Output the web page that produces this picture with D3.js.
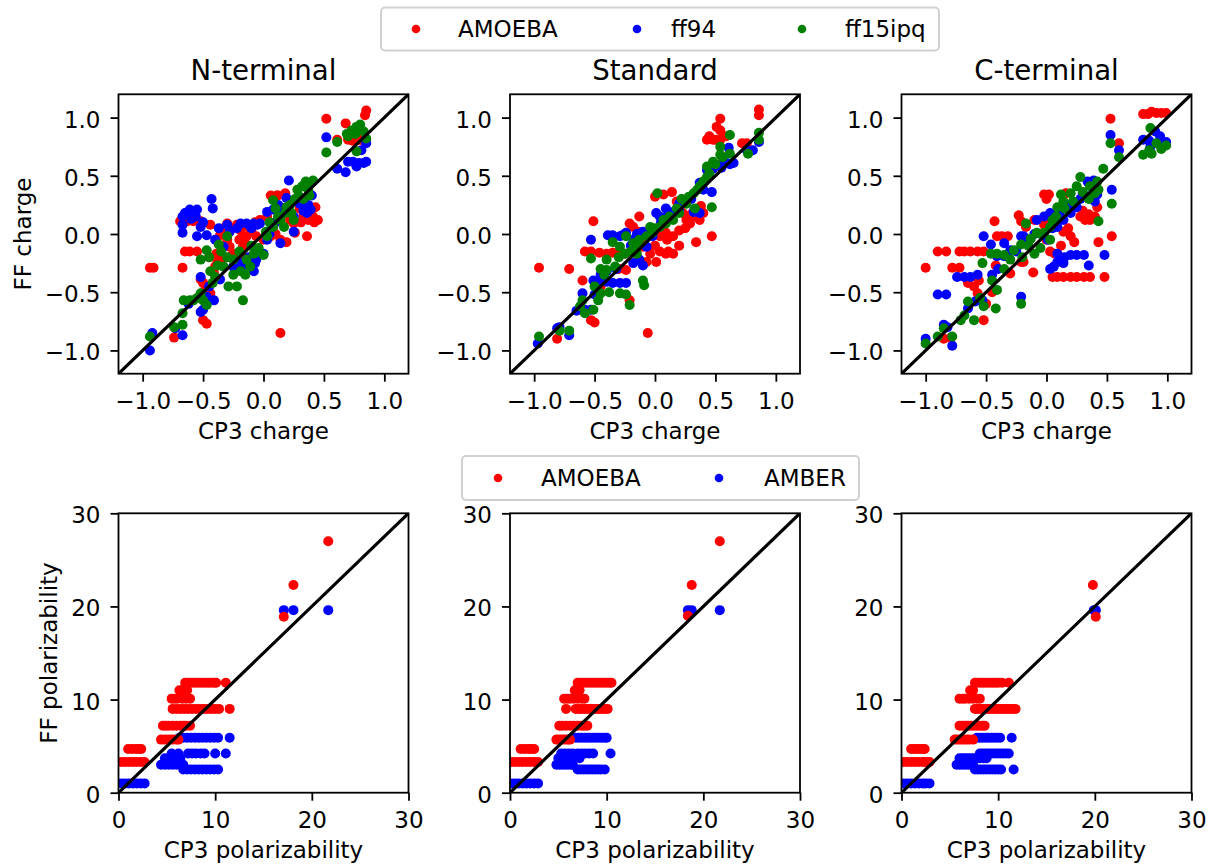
<!DOCTYPE html>
<html><head><meta charset="utf-8">
<script src="https://cdn.jsdelivr.net/npm/d3@7"></script>
<style>
body{margin:0;background:#fff}
text{font-family:"DejaVu Sans",sans-serif;fill:#000}
</style>
</head><body>
<svg id="chart" width="1208" height="866"></svg>
<script>
// ---------------- DATA ----------------
const panelTitles = ["N-terminal", "Standard", "C-terminal"];
const chargeLegendLabels = ["AMOEBA", "ff94", "ff15ipq"];
const polLegendLabels = ["AMOEBA", "AMBER"];
const chargeTicks = [-1.0, -0.5, 0.0, 0.5, 1.0];
const polTicks = [0, 10, 20, 30];
const chargeDomain = [-1.2, 1.2];
const polDomain = [0, 30];
const xLabelCharge = "CP3 charge", yLabelCharge = "FF charge";
const xLabelPol = "CP3 polarizability", yLabelPol = "FF polarizability";

// N-terminal charges [CP3, FF]
const nTermAmoeba = [[0.52,0.99],[0.68,0.95],[0.85,1.06],[0.84,1.02],[0.70,0.81],[0.74,0.80],[0.79,0.81],[0.83,0.80],[0.85,0.81],[0.61,0.81],
[0.06,0.33],[0.11,0.33],[0.18,0.35],[0.03,0.15],[0.15,0.16],[0.30,0.22],[0.33,0.16],[0.37,0.12],[0.41,0.15],[0.43,0.23],[0.36,-0.02],[0.26,0.01],[0.19,-0.07],[0.14,-0.05],[0.06,-0.02],[0.25,0.09],
[-0.69,0.11],[-0.63,0.11],[-0.58,0.11],[-0.52,0.11],[-0.44,0.08],
[-0.30,0.09],[-0.26,0.05],[-0.19,0.03],[-0.14,-0.02],[-0.06,-0.02],[-0.28,-0.11],[-0.25,-0.17],[-0.36,-0.01],[-0.39,-0.17],[-0.40,-0.28],[-0.41,-0.34],[-0.17,-0.11],[-0.10,0.03],[-0.34,-0.22],[-0.03,0.12],[-0.18,-0.19],
[-0.94,-0.29],[-0.91,-0.29],[-0.67,-0.29],[-0.74,-0.89],[-0.50,-0.74],[-0.47,-0.77],[-0.65,-0.15],[-0.61,-0.15],[-0.55,-0.15],[-0.52,-0.39],[-0.44,-0.51],[0.14,-0.85],[-0.50,-0.42],
[-0.33,0.05],[-0.22,0.08],[-0.12,0.06],[-0.30,-0.05],[-0.20,-0.05],[0.0,-0.05],[0.10,0.0],[0.22,0.12],[0.31,0.10],[0.42,0.10],[-0.45,-0.20],[-0.38,-0.24],[-0.48,-0.47],[0.38,0.20],[-0.07,0.10],[0.12,0.33],[0.45,0.12],[-0.28,-0.20],[-0.15,-0.08]];
const nTermFf94 = [[0.52,0.83],[0.61,0.56],[0.68,0.53],[0.70,0.62],[0.74,0.62],[0.79,0.61],[0.83,0.61],[0.85,0.62],[0.77,0.58],[0.81,0.72],[0.85,0.78],
[0.21,0.46],[0.19,0.31],[0.14,0.23],[0.08,0.21],[0.03,0.19],[0.14,-0.08],[0.25,0.02],[0.36,0.18],[0.39,0.21],[0.40,0.33],[0.30,0.26],[0.07,0.06],[-0.03,0.09],
[-0.67,0.15],[-0.65,0.18],[-0.61,0.21],[-0.55,0.21],[-0.67,0.01],[-0.67,0.08],[-0.55,-0.02],[-0.52,0.06],[-0.43,0.30],[-0.42,0.22],[-0.47,-0.01],[-0.56,0.15],
[-0.37,0.05],[-0.28,0.02],[-0.19,0.09],[-0.14,0.09],[-0.08,0.09],[-0.25,-0.28],[-0.18,-0.28],[-0.07,-0.25],[-0.06,-0.22],[-0.08,-0.32],[0.0,-0.17],[-0.33,-0.11],[0.03,-0.05],[-0.36,-0.39],
[-0.94,-1.0],[-0.92,-0.85],[-0.67,-0.87],[-0.73,-0.81],[-0.52,-0.67],[-0.50,-0.65],[-0.47,-0.54],[-0.52,-0.37],[-0.41,-0.57],
[-0.30,0.08],[-0.22,0.05],[-0.10,0.05],[-0.05,0.08],[0.05,0.0],[0.10,0.10],[0.18,0.20],[0.25,0.15],[0.33,0.20],[0.37,0.25],[-0.60,0.13],[-0.50,0.10],[-0.40,-0.05],[-0.20,-0.25],[-0.12,-0.20],[0.12,0.25],[-0.45,-0.45],[-0.62,-0.60]];
const nTermFf15ipq = [[0.52,0.70],[0.61,0.79],[0.69,0.86],[0.73,0.89],[0.77,0.92],[0.80,0.94],[0.76,0.86],[0.83,0.88],[0.85,0.82],[0.77,0.71],[0.70,0.84],
[0.08,0.29],[0.14,0.12],[0.19,0.23],[0.23,0.18],[0.28,0.38],[0.32,0.41],[0.36,0.42],[0.41,0.46],[0.30,0.32],[0.37,0.38],[0.08,0.06],[0.17,0.06],[0.03,-0.02],[0.25,0.12],
[-0.52,-0.22],[-0.47,-0.14],[-0.44,-0.32],[-0.37,-0.09],[-0.29,-0.45],[-0.22,-0.45],[-0.17,-0.57],[-0.25,-0.22],[-0.19,-0.32],[-0.11,-0.28],[-0.08,-0.17],[0.0,-0.18],[-0.33,-0.28],[-0.14,-0.22],[-0.04,-0.12],[-0.30,-0.02],[-0.40,-0.37],
[-0.94,-0.88],[-0.74,-0.80],[-0.67,-0.78],[-0.67,-0.68],[-0.66,-0.57],[-0.61,-0.57],[-0.55,-0.55],[-0.50,-0.57],[-0.47,-0.61],[-0.52,-0.51],
[-0.45,-0.20],[-0.35,-0.15],[-0.30,-0.20],[-0.20,-0.15],[-0.10,-0.10],[0.02,0.02],[0.05,0.10],[0.12,0.15],[0.18,0.18],[0.22,0.25],[0.26,0.30],[0.33,0.30],[0.38,0.33],[-0.38,-0.27],[-0.25,-0.35],[-0.15,-0.35],[-0.58,-0.57],[-0.42,-0.42],[0.10,0.22],[0.35,0.45]];

// Standard charges
const stdAmoeba = [[-0.96,-0.29],[-0.71,-0.30],[-0.51,0.11],[-0.06,-0.85],[-0.81,-0.90],[-0.60,-0.40],[-0.53,-0.74],[-0.50,-0.76],[-0.58,-0.15],[-0.53,-0.15],[-0.46,-0.16],[-0.40,-0.17],[-0.35,-0.16],[-0.29,-0.15],
[-0.21,0.09],[-0.18,0.06],[-0.13,0.15],[-0.21,-0.57],[-0.24,-0.31],[-0.14,0.02],[-0.10,-0.11],[-0.04,-0.17],[0.01,-0.24],[0.0,0.32],[0.07,0.34],[0.14,0.36],[0.18,0.28],[0.23,0.18],[0.26,0.12],[0.32,0.15],[0.37,0.12],[0.38,0.24],[0.34,-0.07],[0.47,-0.02],
[0.04,-0.15],[0.09,-0.17],[0.15,-0.17],[0.04,-0.02],[0.09,0.01],[0.15,-0.02],[0.20,0.03],[0.43,0.81],[0.48,0.81],[0.54,0.81],[0.59,0.84],[0.54,0.89],[0.51,0.92],[0.54,0.99],[0.72,0.78],[0.76,0.78],[0.86,1.07],[0.86,1.02],[-0.07,-0.24],[0.29,0.09],
[-0.25,-0.17],[-0.20,-0.15],[-0.12,-0.07],[0.0,-0.10],[0.10,-0.05],[0.20,-0.10],[0.25,0.05],[0.30,0.17],[0.40,0.18],[-0.30,-0.30],[-0.45,-0.45],[0.11,-0.15],[0.50,0.81],[0.45,0.84]];
const stdFf94 = [[-0.97,-0.94],[-0.81,-0.81],[-0.79,-0.80],[-0.71,-0.87],[-0.60,-0.51],[-0.58,-0.65],[-0.53,-0.65],[-0.53,-0.05],[-0.51,-0.40],[-0.46,-0.40],[-0.40,-0.41],[-0.35,-0.42],[-0.29,-0.42],[-0.24,-0.42],
[-0.39,-0.01],[-0.35,-0.01],[-0.29,-0.02],[-0.27,-0.01],[-0.24,0.01],[-0.18,-0.05],[-0.18,-0.25],[-0.13,-0.22],[-0.10,-0.27],[-0.02,-0.02],[0.01,0.18],[0.04,0.15],[0.09,0.22],[0.15,0.19],[0.20,0.26],[0.26,0.29],[0.37,0.44],[0.32,0.19],[0.37,0.18],[0.47,0.36],
[0.43,0.55],[0.48,0.56],[0.54,0.59],[0.59,0.61],[0.65,0.61],[0.61,0.74],[0.76,0.72],[0.81,0.72],[0.86,0.79],[-0.02,0.03],[-0.07,-0.11],
[-0.45,-0.35],[-0.40,-0.32],[-0.32,-0.30],[-0.20,-0.10],[-0.15,0.0],[-0.10,0.02],[0.05,0.10],[0.10,0.15],[0.20,0.20],[0.30,0.30],[0.40,0.38],[-0.50,-0.52],[-0.65,-0.66],[0.55,0.57],[0.62,0.60]];
const stdFf15ipq = [[-0.96,-0.88],[-0.79,-0.83],[-0.71,-0.83],[-0.60,-0.57],[-0.58,-0.68],[-0.51,-0.65],[-0.47,-0.57],[-0.45,-0.51],[-0.53,-0.21],[-0.45,-0.30],[-0.40,-0.31],[-0.38,-0.50],[-0.29,-0.51],[-0.24,-0.52],[-0.21,-0.61],
[-0.35,-0.07],[-0.29,-0.11],[-0.25,-0.17],[-0.24,-0.02],[-0.18,-0.08],[-0.13,-0.05],[-0.07,-0.02],[-0.04,0.06],[-0.09,-0.44],[-0.10,-0.40],[-0.02,0.01],[0.04,0.06],[0.09,0.09],[0.15,0.12],[0.20,0.18],[0.26,0.26],[0.32,0.35],[0.37,0.41],[0.43,0.49],
[0.02,0.35],[0.33,0.22],[0.47,0.23],[0.43,0.58],[0.48,0.62],[0.54,0.68],[0.54,0.75],[0.56,0.66],[0.62,0.69],[0.62,0.85],[0.77,0.69],[0.86,0.87],[0.86,0.81],[-0.15,-0.17],[-0.40,-0.22],
[-0.50,-0.45],[-0.42,-0.35],[-0.33,-0.28],[-0.30,-0.20],[-0.20,-0.15],[-0.15,-0.10],[0.0,0.05],[0.07,0.12],[0.12,0.15],[0.18,0.22],[0.22,0.30],[0.28,0.32],[0.35,0.38],[0.40,0.45],[0.45,0.52],[0.50,0.60],[-0.62,-0.62]];

// C-terminal charges
const cTermAmoeba = [[-1.0,-0.29],[-0.90,-0.15],[-0.83,-0.15],[-0.78,-0.29],[-0.72,-0.29],[-0.72,-0.15],[-0.68,-0.15],[-0.63,-0.15],[-0.57,-0.15],[-0.52,-0.15],[-0.85,-0.90],[-0.79,-0.89],[-0.65,-0.42],[-0.60,-0.45],[-0.57,-0.51],[-0.56,-0.40],[-0.52,-0.74],
[-0.43,0.11],[-0.41,-0.02],[-0.37,-0.02],[-0.32,-0.02],[-0.42,-0.27],[-0.30,-0.34],[-0.23,0.16],[-0.21,0.11],[-0.17,0.06],[-0.21,-0.24],[-0.19,-0.24],[-0.11,-0.33],[-0.02,0.34],[0.02,0.34],[0.03,-0.15],[0.07,-0.17],[-0.02,0.08],[0.03,0.09],[0.09,0.12],[0.16,0.35],
[0.05,-0.37],[0.09,-0.37],[0.14,-0.37],[0.20,-0.37],[0.25,-0.37],[0.31,-0.37],[0.36,-0.37],[0.14,0.02],[0.20,-0.02],[0.23,-0.07],[0.28,0.15],[0.32,0.12],[0.36,0.12],[0.40,0.15],[0.42,0.23],[0.43,-0.07],[0.48,-0.37],
[0.53,0.99],[0.54,-0.02],[0.60,0.78],[0.80,1.03],[0.84,1.03],[0.87,1.05],[0.91,1.04],[0.95,1.04],[0.99,1.04],
[-0.45,-0.50],[-0.50,-0.60],[0.0,0.30],[0.10,0.20],[0.12,-0.10],[0.18,0.05],[0.30,0.20],[0.35,0.17],[-0.10,0.12],[0.0,-0.05]];
const cTermFf94 = [[-1.0,-0.90],[-0.90,-0.52],[-0.83,-0.52],[-0.85,-0.78],[-0.82,-0.80],[-0.78,-0.96],[-0.74,-0.37],[-0.68,-0.37],[-0.63,-0.37],[-0.57,-0.35],[-0.65,-0.64],[-0.59,-0.58],[-0.53,-0.57],
[-0.52,-0.02],[-0.46,-0.09],[-0.41,-0.19],[-0.35,-0.19],[-0.30,-0.14],[-0.35,-0.08],[-0.21,-0.02],[-0.19,-0.02],[-0.16,-0.05],[-0.21,-0.54],[-0.08,0.12],[-0.02,0.15],[0.03,0.18],[0.09,0.06],[0.14,0.12],[0.20,0.18],[0.25,0.23],[0.34,0.45],[0.39,0.46],[0.36,0.32],[0.42,0.34],
[0.03,-0.30],[0.09,-0.24],[0.14,-0.25],[0.20,-0.18],[0.25,-0.18],[0.31,-0.18],[0.35,-0.27],[0.09,-0.17],[0.48,-0.18],[0.53,0.85],[0.54,0.38],[0.60,0.72],[0.80,0.81],[0.86,0.75],[0.90,0.88],[0.94,0.84],[0.99,0.79],[0.01,-0.05],
[-0.45,-0.35],[-0.40,-0.30],[-0.25,-0.15],[-0.10,0.0],[0.05,0.05],[0.12,0.20],[0.20,0.25],[0.28,0.30],[0.30,0.35],[0.40,0.28],[0.06,-0.28],[0.15,-0.20],[0.85,0.80],[0.95,0.78]];
const cTermFf15ipq = [[-1.0,-0.94],[-0.90,-0.88],[-0.85,-0.81],[-0.78,-0.88],[-0.71,-0.74],[-0.65,-0.58],[-0.60,-0.74],[-0.52,-0.62],[-0.42,-0.64],[-0.53,-0.25],[-0.41,-0.48],[-0.46,-0.17],[-0.41,-0.17],[-0.35,-0.18],[-0.30,-0.22],[-0.27,-0.14],[-0.21,-0.09],[-0.21,-0.60],
[-0.17,0.09],[-0.13,-0.04],[-0.10,-0.17],[-0.05,-0.12],[-0.02,0.01],[0.03,0.06],[0.09,0.23],[0.14,0.28],[0.20,0.35],[0.25,0.41],[0.28,0.49],[0.36,0.41],[0.43,0.38],[0.47,0.56],[0.43,0.11],[0.54,0.26],
[0.53,0.78],[0.60,0.66],[0.80,0.68],[0.87,0.69],[0.91,0.78],[0.86,0.91],[0.99,0.76],[0.12,0.34],[0.03,-0.05],[-0.08,0.01],
[-0.45,-0.40],[-0.35,-0.30],[-0.20,-0.20],[-0.15,-0.10],[-0.05,0.0],[0.05,0.12],[0.08,0.15],[0.15,0.22],[0.22,0.28],[0.30,0.36],[0.35,0.30],[0.40,0.35],[0.42,0.45],[-0.55,-0.55],[-0.68,-0.70],[0.85,0.72],[0.95,0.73]];

// Polarizabilities [CP3, FF]
const polNAmoeba = [[6.9,11.8],[7.2,11.8],[7.5,11.8],[7.8,11.8],[8.1,11.8],[8.4,11.8],[8.7,11.8],[9.0,11.8],[9.3,11.8],[9.6,11.8],[9.9,11.8],[10.1,11.8],[11.1,11.8],
[6.3,11.0],[6.6,11.0],[6.9,11.0],[7.1,11.0],
[5.5,10.1],[5.8,10.1],[6.1,10.1],[6.6,10.1],[7.0,10.1],[7.4,10.1],
[5.6,9.0],[6.0,9.0],[6.4,9.0],[6.8,9.0],[7.2,9.0],[7.6,9.0],[8.0,9.0],[8.4,9.0],[8.8,9.0],[9.2,9.0],[9.6,9.0],[10.0,9.0],[10.4,9.0],[11.5,9.0],
[4.6,7.2],[4.9,7.2],[5.2,7.2],[5.6,7.2],[6.0,7.2],[6.4,7.2],[6.7,7.2],[7.0,7.2],[7.4,7.2],
[4.4,5.7],[4.8,5.7],[5.2,5.7],[5.6,5.7],[6.0,5.7],[6.2,5.7],
[1.0,4.7],[1.4,4.7],[1.8,4.7],[2.1,4.7],[2.35,4.7],
[0.3,3.3],[0.7,3.3],[1.1,3.3],[1.5,3.3],[1.9,3.3],[2.3,3.3],[2.7,3.3],
[17.1,18.9],[18.1,22.3],[21.7,27.0]];
const polNAmber = [[0.3,1.0],[0.7,1.0],[1.1,1.0],[1.5,1.0],[1.9,1.0],[2.3,1.0],[2.7,1.0],
[6.3,5.9],[6.7,5.9],[7.1,5.9],[7.5,5.9],[7.9,5.9],[8.3,5.9],[8.7,5.9],[9.1,5.9],[9.5,5.9],[9.9,5.9],[10.3,5.9],[11.5,5.9],
[5.5,4.2],[6.2,4.2],[7.2,4.2],[7.6,4.2],[8.0,4.2],[8.5,4.2],[8.9,4.2],[10.0,4.2],[11.1,4.2],
[4.8,3.7],[5.2,3.7],[5.6,3.7],[6.0,3.7],[6.4,3.7],
[4.4,3.0],[4.8,3.0],[5.2,3.0],[5.6,3.0],[6.0,3.0],[6.4,3.0],[6.7,3.0],
[6.7,2.5],[7.1,2.5],[7.5,2.5],[7.9,2.5],[8.3,2.5],[8.7,2.5],[9.1,2.5],[9.5,2.5],[9.9,2.5],[10.3,2.5],
[17.1,19.6],[18.1,19.6],[21.7,19.6]];
const polStdAmoeba = [[7.0,11.8],[7.3,11.8],[7.6,11.8],[7.9,11.8],[8.2,11.8],[8.5,11.8],[8.8,11.8],[9.1,11.8],[9.4,11.8],[9.7,11.8],[10.0,11.8],[10.3,11.8],[10.5,11.8],
[6.7,11.0],[7.0,11.0],[7.2,11.0],
[5.6,10.1],[5.9,10.1],[6.2,10.1],[6.6,10.1],[7.0,10.1],[7.4,10.1],[7.7,10.1],
[5.8,9.0],[6.8,9.0],[7.1,9.0],[7.4,9.0],[7.7,9.0],[8.0,9.0],[8.3,9.0],[8.6,9.0],[8.9,9.0],[9.2,9.0],[9.5,9.0],[9.8,9.0],[10.1,9.0],
[5.1,7.2],[5.4,7.2],[5.8,7.2],[6.2,7.2],[6.6,7.2],[7.0,7.2],[7.4,7.2],[7.7,7.2],[8.0,7.2],
[4.8,5.7],[5.1,5.7],[5.4,5.7],[5.7,5.7],[6.0,5.7],[6.2,5.7],
[1.1,4.7],[1.5,4.7],[1.9,4.7],[2.2,4.7],[2.5,4.7],
[0.1,3.3],[0.5,3.3],[0.9,3.3],[1.3,3.3],[1.7,3.3],[2.1,3.3],[2.5,3.3],[2.9,3.3],
[18.4,19.0],[18.8,22.3],[21.7,27.0]];
const polStdAmber = [[0.1,1.0],[0.5,1.0],[0.9,1.0],[1.3,1.0],[1.7,1.0],[2.1,1.0],[2.5,1.0],[2.9,1.0],
[6.8,5.9],[7.1,5.9],[7.4,5.9],[7.7,5.9],[8.0,5.9],[8.3,5.9],[8.6,5.9],[8.9,5.9],[9.2,5.9],[9.5,5.9],[9.8,5.9],[10.0,5.9],
[5.3,4.2],[5.7,4.2],[6.1,4.2],[6.5,4.2],[7.0,4.2],[7.4,4.2],[7.8,4.2],[8.2,4.2],[8.6,4.2],[10.4,4.2],
[5.0,3.7],[5.4,3.7],[5.8,3.7],[6.2,3.7],[6.6,3.7],[7.2,3.7],
[4.8,3.0],[5.1,3.0],[5.4,3.0],[5.7,3.0],[6.0,3.0],[6.3,3.0],[6.5,3.0],
[7.0,2.5],[7.3,2.5],[7.6,2.5],[7.9,2.5],[8.2,2.5],[8.5,2.5],[8.8,2.5],[9.1,2.5],[9.4,2.5],[9.8,2.5],
[18.4,19.6],[18.8,19.6],[21.7,19.6]];
const polCAmoeba = [[7.6,11.8],[7.9,11.8],[8.2,11.8],[8.5,11.8],[8.8,11.8],[9.1,11.8],[9.4,11.8],[9.7,11.8],[10.0,11.8],[10.4,11.8],[11.1,11.8],
[7.1,11.0],[7.4,11.0],
[6.0,10.1],[6.3,10.1],[6.6,10.1],[7.0,10.1],[7.4,10.1],[7.8,10.1],[8.1,10.1],
[7.6,9.0],[7.9,9.0],[8.2,9.0],[8.5,9.0],[8.8,9.0],[9.1,9.0],[9.4,9.0],[9.7,9.0],[10.0,9.0],[10.3,9.0],[10.6,9.0],[10.9,9.0],[11.2,9.0],[11.5,9.0],[11.8,9.0],
[6.0,7.2],[6.3,7.2],[6.6,7.2],[6.9,7.2],[7.2,7.2],[7.5,7.2],[7.8,7.2],[8.1,7.2],[8.4,7.2],[8.6,7.2],
[5.5,5.7],[5.8,5.7],[6.1,5.7],[6.4,5.7],[6.7,5.7],[7.0,5.7],[7.4,5.7],
[1.0,4.7],[1.3,4.7],[1.6,4.7],[1.9,4.7],[2.2,4.7],[2.4,4.7],
[0.2,3.3],[0.6,3.3],[1.0,3.3],[1.4,3.3],[1.8,3.3],[2.2,3.3],[2.5,3.3],[2.9,3.3],
[19.8,22.3],[20.1,18.9]];
const polCAmber = [[0.2,1.0],[0.6,1.0],[1.0,1.0],[1.4,1.0],[1.8,1.0],[2.2,1.0],[2.5,1.0],[2.9,1.0],
[7.8,5.9],[8.1,5.9],[8.4,5.9],[8.7,5.9],[9.0,5.9],[9.3,5.9],[9.6,5.9],[9.9,5.9],[10.2,5.9],[11.4,5.9],
[8.1,4.2],[8.4,4.2],[8.7,4.2],[9.0,4.2],[9.3,4.2],[9.6,4.2],[9.9,4.2],[10.2,4.2],[10.5,4.2],[10.8,4.2],[11.1,4.2],
[6.0,3.7],[6.3,3.7],[6.6,3.7],[6.9,3.7],[7.2,3.7],[7.5,3.7],[7.8,3.7],[8.1,3.7],[8.5,3.7],[8.8,3.7],
[5.7,3.0],[6.0,3.0],[6.3,3.0],[6.6,3.0],[6.9,3.0],[7.2,3.0],[7.4,3.0],
[7.6,2.5],[7.9,2.5],[8.2,2.5],[8.5,2.5],[8.8,2.5],[9.1,2.5],[9.4,2.5],[9.7,2.5],[10.0,2.5],[10.3,2.5],[11.6,2.5],
[19.9,19.6],[20.1,19.6]];

// ---------------- DRAWING ----------------
const RED = "#ff0000", BLUE = "#0000ff", GREEN = "#008000";
const svg = d3.select("#chart");
svg.append("rect").attr("width", 1208).attr("height", 866).attr("fill", "#fff");

const lefts = [118.5, 510, 901.5];
const W = 290;
const rows = [{top: 94.3, bottom: 373.7}, {top: 513.3, bottom: 792.7}];
const FS = 23;
const DOT_R = 5;

let clipN = 0;
function drawPanel(opt) {
  const {x0, y0, y1, domain, ticks, fmt, series, title, xlabel, ylabel, ylabelX} = opt;
  const x1 = x0 + W;
  const xs = d3.scaleLinear().domain(domain).range([x0, x1]);
  const ys = d3.scaleLinear().domain(domain).range([y1, y0]);
  const g = svg.append("g");
  const cid = "clip" + (clipN++);
  svg.append("defs").append("clipPath").attr("id", cid)
    .append("rect").attr("x", x0).attr("y", y0).attr("width", x1 - x0).attr("height", y1 - y0);
  const pg = g.append("g").attr("clip-path", `url(#${cid})`);
  series.forEach(s => {
    pg.append("g").selectAll("circle").data(s.data).join("circle")
      .attr("cx", d => xs(d[0])).attr("cy", d => ys(d[1]))
      .attr("r", DOT_R).attr("fill", s.color);
  });
  pg.append("line")
    .attr("x1", xs(domain[0])).attr("y1", ys(domain[0]))
    .attr("x2", xs(domain[1])).attr("y2", ys(domain[1]))
    .attr("stroke", "#000").attr("stroke-width", 3.2);

  const ax = g.append("g").attr("transform", `translate(0,${y1})`)
    .call(d3.axisBottom(xs).tickValues(ticks).tickFormat(fmt).tickSize(8).tickSizeOuter(0));
  ax.select(".domain").remove();
  ax.selectAll(".tick line").attr("stroke", "#000").attr("stroke-width", 1.8);
  ax.selectAll(".tick text").attr("y", 35).attr("dy", null)
    .attr("font-size", FS).attr("font-family", "DejaVu Sans").attr("fill", "#000");

  const ay = g.append("g").attr("transform", `translate(${x0},0)`)
    .call(d3.axisLeft(ys).tickValues(ticks).tickFormat(fmt).tickSize(8).tickPadding(10).tickSizeOuter(0));
  ay.select(".domain").remove();
  ay.selectAll(".tick line").attr("stroke", "#000").attr("stroke-width", 1.8);
  ay.selectAll(".tick text").attr("dy", "0.41em")
    .attr("font-size", FS).attr("font-family", "DejaVu Sans").attr("fill", "#000");

  g.append("rect").attr("x", x0).attr("y", y0).attr("width", x1 - x0).attr("height", y1 - y0)
    .attr("fill", "none").attr("stroke", "#000").attr("stroke-width", 1.8);

  g.append("text").attr("x", (x0 + x1) / 2).attr("y", y1 + 65)
    .attr("text-anchor", "middle").attr("font-size", FS).text(xlabel);
  if (ylabel) {
    g.append("text").attr("transform", `translate(${ylabelX},${(y0 + y1) / 2}) rotate(-90)`)
      .attr("text-anchor", "middle").attr("font-size", FS).text(ylabel);
  }
  if (title) {
    g.append("text").attr("x", (x0 + x1) / 2).attr("y", 80)
      .attr("text-anchor", "middle").attr("font-size", 27.6).text(title);
  }
}

const chargeSets = [
  [nTermAmoeba, nTermFf94, nTermFf15ipq],
  [stdAmoeba, stdFf94, stdFf15ipq],
  [cTermAmoeba, cTermFf94, cTermFf15ipq]
];
const polSets = [
  [polNAmoeba, polNAmber],
  [polStdAmoeba, polStdAmber],
  [polCAmoeba, polCAmber]
];
const fmtCharge = d3.format(".1f");
const fmtPol = d3.format("d");

chargeSets.forEach((set, i) => {
  drawPanel({
    x0: lefts[i], y0: rows[0].top, y1: rows[0].bottom, domain: chargeDomain, ticks: chargeTicks, fmt: fmtCharge,
    series: [{data: set[0], color: RED}, {data: set[1], color: BLUE}, {data: set[2], color: GREEN}],
    title: panelTitles[i], xlabel: xLabelCharge, ylabel: i === 0 ? yLabelCharge : null, ylabelX: 31
  });
});
polSets.forEach((set, i) => {
  drawPanel({
    x0: lefts[i], y0: rows[1].top, y1: rows[1].bottom, domain: polDomain, ticks: polTicks, fmt: fmtPol,
    series: [{data: set[1], color: BLUE}, {data: set[0], color: RED}],
    title: null, xlabel: xLabelPol, ylabel: i === 0 ? yLabelPol : null, ylabelX: 57
  });
});

// Legends
function legend(box, items) {
  const g = svg.append("g");
  g.append("rect").attr("x", box.x).attr("y", box.y).attr("width", box.w).attr("height", box.h)
    .attr("rx", 4).attr("fill", "#fff").attr("fill-opacity", 0.8)
    .attr("stroke", "#d0d0d0").attr("stroke-width", 2);
  items.forEach(it => {
    g.append("circle").attr("cx", it.mx).attr("cy", box.y + box.h / 2).attr("r", 4.3).attr("fill", it.color);
    g.append("text").attr("x", it.tx).attr("y", box.y + box.h / 2 + 8).attr("font-size", FS).text(it.label);
  });
}
legend({x: 381, y: 7.5, w: 558, h: 43}, [
  {label: chargeLegendLabels[0], color: RED, mx: 416, tx: 458},
  {label: chargeLegendLabels[1], color: BLUE, mx: 637, tx: 671},
  {label: chargeLegendLabels[2], color: GREEN, mx: 802, tx: 845}
]);
legend({x: 462, y: 456, w: 397, h: 44}, [
  {label: polLegendLabels[0], color: RED, mx: 498, tx: 541},
  {label: polLegendLabels[1], color: BLUE, mx: 719, tx: 764}
]);
</script>
</body></html>
